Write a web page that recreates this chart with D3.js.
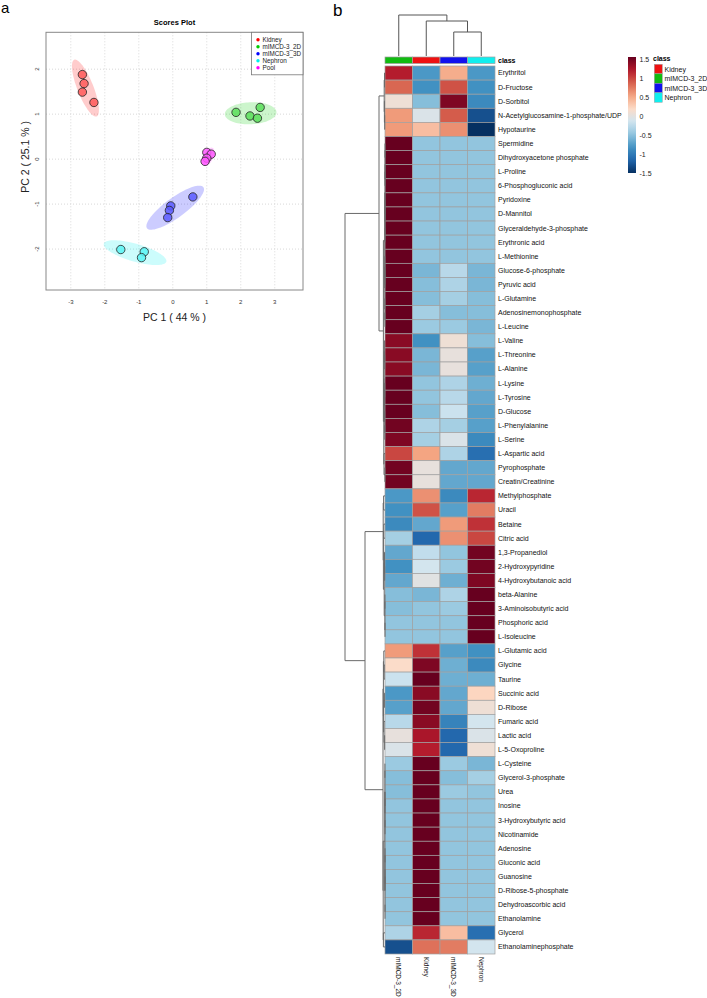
<!DOCTYPE html>
<html><head><meta charset="utf-8">
<script src="https://cdn.jsdelivr.net/npm/d3@7"></script>
<style>body{margin:0;background:#fff;} svg{display:block;font-family:"Liberation Sans",Arial,sans-serif;}</style>
</head><body><svg id="c" width="707" height="998"></svg>
<script>
// ---------------- Panel a data (PCA scores) ----------------
const pcaGroups = ["Kidney","mIMCD-3_2D","mIMCD-3_3D","Nephron","Pool"];
const pcaColors = ["#FF0000","#00CC00","#0000FF","#00EEEE","#FF00FF"];
const scoreGroup = ["Kidney","Kidney","Kidney","Kidney",
  "mIMCD-3_2D","mIMCD-3_2D","mIMCD-3_2D","mIMCD-3_2D",
  "mIMCD-3_3D","mIMCD-3_3D","mIMCD-3_3D","mIMCD-3_3D",
  "Nephron","Nephron","Nephron",
  "Pool","Pool","Pool","Pool"];
const scorePC1 = [-2.66,-2.61,-2.66,-2.32, 1.86,2.27,2.49,2.57, 0.59,-0.06,-0.10,-0.15, -1.53,-0.84,-0.92, 1.00,1.13,1.00,0.95];
const scorePC2 = [1.88,1.68,1.49,1.26, 1.04,0.96,0.91,1.15, -0.84,-1.04,-1.14,-1.30, -2.01,-2.06,-2.19, 0.15,0.11,0.02,-0.05];
// confidence ellipses: centre, major and minor half-axis vectors (data units)
const ellipseCenter = [[-2.57,1.58],[2.29,1.02],[0.07,-1.08],[-1.11,-2.08],[1.04,0.05]];
const ellipseMajor  = [[0.33,-0.63],[0.76,0.02],[0.83,0.456],[0.92,-0.20],[0.13,0.20]];
const ellipseMinor  = [[0.22,0.066],[0.0,0.245],[0.173,-0.18],[-0.073,-0.19],[0.13,-0.05]];
const pcTicksX = [-3,-2,-1,0,1,2,3];
const pcTicksY = [-2,-1,0,1,2];

// ---------------- Panel b data (heatmap) ----------------
const colNames = ["mIMCD-3_2D","Kidney","mIMCD-3_3D","Nephron"];
const classNames = ["Kidney","mIMCD-3_2D","mIMCD-3_3D","Nephron"];
const classColors = ["#EE1111","#11BB11","#1111EE","#11EEEE"];
const rowNames = ["Erythritol","D-Fructose","D-Sorbitol","N-Acetylglucosamine-1-phosphate/UDP","Hypotaurine",
 "Spermidine","Dihydroxyacetone phosphate","L-Proline","6-Phosphogluconic acid","Pyridoxine","D-Mannitol",
 "Glyceraldehyde-3-phosphate","Erythronic acid","L-Methionine","Glucose-6-phosphate","Pyruvic acid","L-Glutamine",
 "Adenosinemonophosphate","L-Leucine","L-Valine","L-Threonine","L-Alanine","L-Lysine","L-Tyrosine","D-Glucose",
 "L-Phenylalanine","L-Serine","L-Aspartic acid","Pyrophosphate","Creatin/Creatinine","Methylphosphate","Uracil",
 "Betaine","Citric acid","1,3-Propanediol","2-Hydroxypyridine","4-Hydroxybutanoic acid","beta-Alanine",
 "3-Aminoisobutyric acid","Phosphoric acid","L-Isoleucine","L-Glutamic acid","Glycine","Taurine","Succinic acid",
 "D-Ribose","Fumaric acid","Lactic acid","L-5-Oxoproline","L-Cysteine","Glycerol-3-phosphate","Urea","Inosine",
 "3-Hydroxybutyric acid","Nicotinamide","Adenosine","Gluconic acid","Guanosine","D-Ribose-5-phosphate",
 "Dehydroascorbic acid","Ethanolamine","Glycerol","Ethanolaminephosphate"];
// values per row: [mIMCD-3_2D, Kidney, mIMCD-3_3D, Nephron]
const heatValues = [
 [1.15,-0.8,0.45,-0.8],[0.8,-0.85,0.9,-0.85],[0.05,-0.55,1.4,-0.9],[0.55,-0.1,0.85,-1.3],[0.55,0.35,0.6,-1.5],
 [1.5,-0.5,-0.5,-0.5],[1.5,-0.5,-0.5,-0.5],[1.5,-0.5,-0.5,-0.5],[1.5,-0.5,-0.5,-0.5],[1.5,-0.5,-0.5,-0.5],
 [1.5,-0.5,-0.5,-0.5],[1.5,-0.5,-0.5,-0.5],[1.5,-0.5,-0.5,-0.5],[1.5,-0.5,-0.5,-0.5],
 [1.5,-0.6,-0.3,-0.6],[1.5,-0.55,-0.35,-0.6],[1.5,-0.55,-0.4,-0.55],[1.5,-0.4,-0.55,-0.55],[1.5,-0.45,-0.45,-0.6],
 [1.35,-0.85,0.05,-0.55],[1.35,-0.6,0.0,-0.75],[1.35,-0.6,0.0,-0.75],[1.5,-0.5,-0.35,-0.65],[1.5,-0.5,-0.3,-0.7],
 [1.5,-0.55,-0.2,-0.75],[1.45,-0.35,-0.4,-0.75],[1.4,-0.4,-0.1,-0.9],[0.95,0.5,-0.35,-1.1],[1.45,0.0,-0.7,-0.7],
 [1.45,0.0,-0.7,-0.7],
 [-0.8,0.6,-0.9,1.1],[-0.85,0.9,-0.75,0.7],[-0.9,-0.7,0.55,1.05],[-0.4,-1.15,0.6,0.95],[-0.7,-0.25,-0.5,1.45],
 [-0.85,-0.15,-0.45,1.45],[-0.7,-0.05,-0.65,1.4],[-0.55,-0.6,-0.35,1.5],[-0.55,-0.5,-0.45,1.5],[-0.5,-0.5,-0.5,1.5],
 [-0.5,-0.5,-0.5,1.5],
 [0.55,1.05,-0.75,-0.85],[0.15,1.4,-0.65,-0.9],[-0.2,1.5,-0.65,-0.65],[-0.8,1.35,-0.7,0.2],[-0.75,1.45,-0.7,0.05],
 [-0.3,1.35,-0.95,-0.15],[0.0,1.2,-1.15,-0.1],[-0.1,1.15,-1.15,0.05],[-0.45,1.5,-0.45,-0.6],[-0.55,1.5,-0.55,-0.4],
 [-0.55,1.5,-0.45,-0.5],[-0.5,1.5,-0.5,-0.5],[-0.5,1.5,-0.5,-0.5],[-0.5,1.5,-0.5,-0.5],[-0.5,1.5,-0.5,-0.5],
 [-0.5,1.5,-0.5,-0.5],[-0.5,1.5,-0.5,-0.5],[-0.5,1.5,-0.5,-0.5],[-0.5,1.5,-0.5,-0.5],[-0.5,1.5,-0.5,-0.5],
 [-0.35,1.1,0.35,-1.1],[-1.3,0.75,0.7,-0.15]];
const colorTicks = [1.5,1,0.5,0,-0.5,-1,-1.5];
// palette: reversed RColorBrewer RdBu (10 classes), blue -> red
const heatPalette = ["#053061","#2166AC","#4393C3","#92C5DE","#D1E5F0","#FDDBC7","#F4A582","#D6604D","#B2182B","#67001F"];
// dendrograms: [height, left, right]; leaves are 1-based row numbers / column names
const colTree = [4.1, "mIMCD-3_2D", [3.5, "Kidney", [2.4, "mIMCD-3_3D", "Nephron"]]];
const rowTree = [10.0,
  [1.5,
    [0.2, [0.12,1,2], [0.15,3,[0.08,4,5]]],
    [0.4,
      [0.06, [0,[0,[0,6,7],[0,8,9]],[0,[0,10,11],[0,12,13]]], [0.04,[0.02,14,[0.01,15,16]],[0.02,17,[0.01,18,19]]]],
      [0.3, [0.2,[0.15,20,[0.05,21,22]],[0.1,[0.05,23,24],[0.06,25,[0.04,26,27]]]], [0.25,28,[0.02,29,30]]]]],
  [5.0,
    [0.45, [0.35,31,32], [0.4,[0.3,33,34],[0.2,[0.12,35,[0.08,36,37]],[0.03,[0.02,38,39],[0,40,41]]]]],
    [0.5,
      [0.4, [0.3,42,[0.2,43,44]], [0.35,[0.15,45,46],[0.25,47,[0.1,48,49]]]],
      [0.45, [0.05,[0.03,[0.02,50,51],[0.01,[0,52,53],[0,54,55]]],[0,[0,[0,56,57],[0,58,59]],[0,60,61]]], [0.4,62,63]]]]];

const svg = d3.select("#c");

// ================= Panel a =================
svg.append("text").attr("x",1).attr("y",13).attr("font-size",15).text("a");
const px = d3.scaleLinear().domain([-3.73,3.83]).range([46,303]);
const py = d3.scaleLinear().domain([-2.91,2.82]).range([290,32.3]);
const gA = svg.append("g");
gA.append("text").attr("x",(46+303)/2).attr("y",25).attr("text-anchor","middle")
  .attr("font-size",7.5).attr("font-weight","bold").text("Scores Plot");
// grid
gA.selectAll("line.gx").data(pcTicksX).join("line").attr("x1",d=>px(d)).attr("x2",d=>px(d))
  .attr("y1",py.range()[1]).attr("y2",py.range()[0]).attr("stroke","#d8d8d8").attr("stroke-dasharray","1,2");
gA.selectAll("line.gy").data(pcTicksY).join("line").attr("y1",d=>py(d)).attr("y2",d=>py(d))
  .attr("x1",px.range()[0]).attr("x2",px.range()[1]).attr("stroke","#d8d8d8").attr("stroke-dasharray","1,2");
// ellipses
const ellPts = d3.range(0,361,4).map(a=>a*Math.PI/180);
ellipseCenter.forEach((c,i)=>{
  const M = ellipseMajor[i], m = ellipseMinor[i];
  const pts = ellPts.map(t=>[px(c[0]+Math.cos(t)*M[0]+Math.sin(t)*m[0]), py(c[1]+Math.cos(t)*M[1]+Math.sin(t)*m[1])]);
  gA.append("path").attr("d",d3.line()(pts)+"Z").attr("fill",pcaColors[i]).attr("fill-opacity",0.2).attr("stroke","none");
});
// points
const gcol = d3.scaleOrdinal().domain(pcaGroups).range(pcaColors);
gA.selectAll("circle.pt").data(scorePC1.map((v,i)=>({x:v,y:scorePC2[i],g:scoreGroup[i]}))).join("circle")
  .attr("cx",d=>px(d.x)).attr("cy",d=>py(d.y)).attr("r",4.2)
  .attr("fill",d=>d3.interpolateRgb(gcol(d.g),"#ffffff")(0.35)).attr("fill-opacity",0.85)
  .attr("stroke","#222").attr("stroke-width",0.8);
// box
gA.append("rect").attr("x",46).attr("y",32.3).attr("width",257).attr("height",257.7)
  .attr("fill","none").attr("stroke","#888").attr("stroke-width",1);
// tick labels
gA.selectAll("text.tx").data(pcTicksX).join("text").attr("x",d=>px(d)).attr("y",303.5)
  .attr("text-anchor","middle").attr("font-size",6).attr("fill","#333").text(d=>d);
gA.selectAll("text.ty").data(pcTicksY).join("text")
  .attr("transform",d=>`translate(38.5,${py(d)}) rotate(-90)`)
  .attr("text-anchor","middle").attr("font-size",6).attr("fill","#333").text(d=>d);
// axis titles
gA.append("text").attr("x",(46+303)/2).attr("y",320.5).attr("text-anchor","middle").attr("font-size",10.5)
  .attr("fill","#222").text("PC 1 ( 44 % )");
gA.append("text").attr("transform",`translate(28.5,${py(0.05)}) rotate(-90)`).attr("text-anchor","middle")
  .attr("font-size",10.5).attr("fill","#222").text("PC 2 ( 25.1 % )");
// legend
const lg = gA.append("g");
lg.append("rect").attr("x",251.5).attr("y",32.3).attr("width",51.5).attr("height",42.5)
  .attr("fill","#fff").attr("stroke","#777").attr("stroke-width",0.8);
pcaGroups.forEach((g,i)=>{
  lg.append("circle").attr("cx",258).attr("cy",39.7+i*7).attr("r",1.7).attr("fill",pcaColors[i]);
  lg.append("text").attr("x",262.5).attr("y",39.7+i*7).attr("dy","0.35em").attr("font-size",6.3)
    .attr("fill","#222").text(g);
});

// ================= Panel b =================
svg.append("text").attr("x",333).attr("y",16).attr("font-size",17).text("b");
const xb = d3.scaleBand().domain(colNames).range([385,495]);
const yb = d3.scaleBand().domain(rowNames).range([66,954]);
const heatColor = d3.scaleLinear().domain(heatPalette.map((c,i)=>-1.5+3*i/(heatPalette.length-1)))
  .range(heatPalette).clamp(true);
const gB = svg.append("g");
const cells = [];
heatValues.forEach((r,i)=>r.forEach((v,j)=>cells.push({row:rowNames[i],col:colNames[j],v})));
gB.selectAll("rect.cell").data(cells).join("rect")
  .attr("x",d=>xb(d.col)).attr("y",d=>yb(d.row)).attr("width",xb.bandwidth()).attr("height",yb.bandwidth())
  .attr("fill",d=>heatColor(d.v)).attr("stroke","#a0a0a0").attr("stroke-width",0.7);
// class annotation
const clsCol = d3.scaleOrdinal().domain(classNames).range(classColors);
gB.selectAll("rect.cls").data(colNames).join("rect")
  .attr("x",d=>xb(d)).attr("y",57).attr("width",xb.bandwidth()).attr("height",6.5)
  .attr("fill",d=>clsCol(d)).attr("stroke","#a0a0a0").attr("stroke-width",0.7);
gB.append("text").attr("x",498).attr("y",60.3).attr("dy","0.35em").attr("font-size",7)
  .attr("font-weight","bold").text("class");
// row labels
gB.selectAll("text.rl").data(rowNames).join("text").attr("x",498).attr("y",d=>yb(d)+yb.bandwidth()/2)
  .attr("dy","0.35em").attr("font-size",7).attr("fill","#111").text(d=>d);
// col labels
gB.selectAll("text.cl").data(colNames).join("text")
  .attr("transform",d=>`translate(${xb(d)+xb.bandwidth()/2},957) rotate(90)`)
  .attr("dy","0.35em").attr("font-size",6.5).attr("fill","#111").text(d=>d);

// dendrogram drawing (elbow)
function drawDendro(tree, leafPos, hPos, orient, g, color){
  function walk(node){
    if(!Array.isArray(node)) return {p:leafPos(node), h:0};
    const [h,l,r] = node;
    const a = walk(l), b = walk(r);
    const ph = hPos(h);
    const segs = [[[hPos(a.h),a.p],[ph,a.p]],[[ph,a.p],[ph,b.p]],[[ph,b.p],[hPos(b.h),b.p]]];
    segs.forEach(s=>{
      const pts = orient==="v" ? s : s.map(q=>[q[1],q[0]]);
      g.append("path").attr("d",d3.line()(pts)).attr("fill","none").attr("stroke",color).attr("stroke-width",1);
    });
    return {p:(a.p+b.p)/2, h};
  }
  walk(tree);
}
// row dendrogram: height -> x
const rowH = d3.scaleLinear().domain([0,10]).range([385,345]);
const gRD = svg.append("g");
drawDendro(rowTree, k=>yb(rowNames[k-1])+yb.bandwidth()/2, rowH, "v", gRD, "#6a6a6a");
// column dendrogram: height -> y
const colH = d3.scaleLinear().domain([0,4.1]).range([56,15]);
const gCD = svg.append("g");
drawDendro(colTree, k=>xb(k)+xb.bandwidth()/2, colH, "h", gCD, "#555");

// colour bar legend
const cbY = d3.scaleLinear().domain([-1.5,1.5]).range([172,58]);
const defs = svg.append("defs");
const grad = defs.append("linearGradient").attr("id","cb").attr("x1",0).attr("x2",0).attr("y1",1).attr("y2",0);
d3.range(0,1.0001,0.05).forEach(t=>grad.append("stop").attr("offset",t).attr("stop-color",heatColor(-1.5+3*t)));
svg.append("rect").attr("x",628).attr("y",cbY(1.5)-1).attr("width",8).attr("height",cbY(-1.5)-cbY(1.5)+2)
  .attr("fill","url(#cb)");
svg.selectAll("text.cbt").data(colorTicks).join("text").attr("x",639.5).attr("y",d=>cbY(d)+1.5)
  .attr("dy","0.35em").attr("font-size",7).attr("fill","#222").text(d=>d);
// class legend
svg.append("text").attr("x",653).attr("y",58.5).attr("dy","0.35em").attr("font-size",7)
  .attr("font-weight","bold").text("class");
classNames.forEach((c,i)=>{
  svg.append("rect").attr("x",654.3).attr("y",64.3+i*9.5).attr("width",8).attr("height",9.5)
    .attr("fill",classColors[i]).attr("stroke","#a0a0a0").attr("stroke-width",0.5);
  svg.append("text").attr("x",664.5).attr("y",64.3+i*9.5+4.75).attr("dy","0.35em").attr("font-size",7)
    .attr("fill","#111").text(c);
});
</script></body></html>
